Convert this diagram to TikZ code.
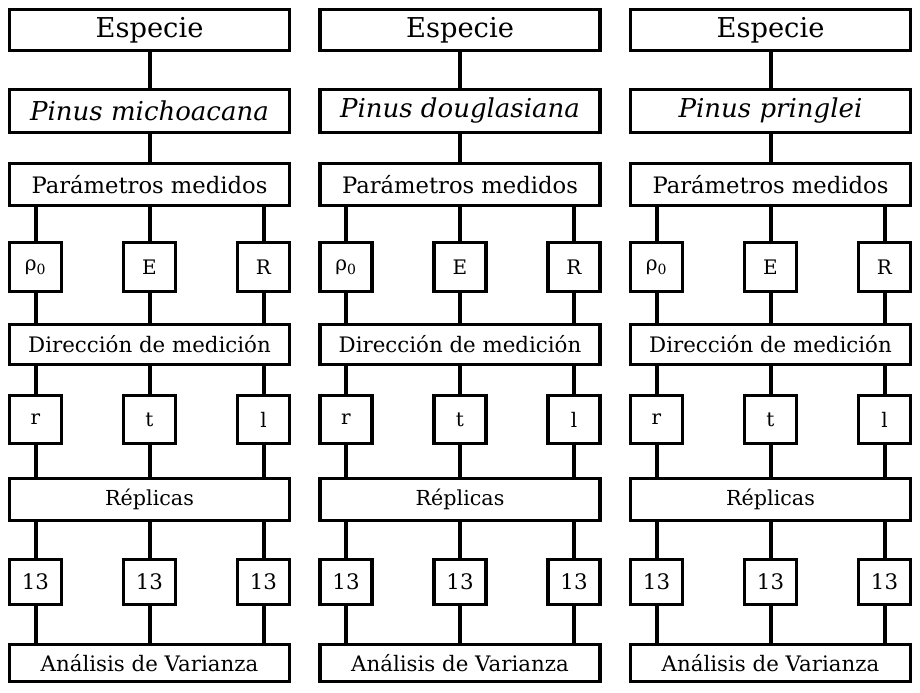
\documentclass[tikz,border=0pt]{standalone}
\usepackage{fontspec}
\setmainfont{DejaVu Serif}

\begin{document}
\begin{tikzpicture}[x=0.75pt, y=-0.75pt,
        ancha/.style={draw, line width=2.3pt, inner sep=0pt, minimum width=210pt},
        chica/.style={draw, line width=2.3pt, inner sep=0pt, minimum width=39pt,
                      font=\fontsize{15}{18}\selectfont},
        linea/.style={line width=3pt}]
    \useasboundingbox (0,0) rectangle (920,692);
    \foreach \c/\especie [count=\i] in {149.5/michoacana, 460/douglasiana, 770.5/pringlei} {
        % columna de cada especie
        \node (esp\i) [ancha, minimum height=30.75pt, font=\fontsize{20.5}{24}\selectfont] at (\c, 30) {Especie};
        \node (pin\i) [ancha, minimum height=32.25pt, font=\fontsize{19.5}{23}\selectfont\itshape] at (\c, 111) {Pinus \especie};
        \node (med\i) [ancha, minimum height=31.5pt, font=\fontsize{17}{20}\selectfont] at (\c, 184.5) {Parámetros medidos};
        \node (dir\i) [ancha, minimum height=30pt, font=\fontsize{16}{19}\selectfont] at (\c, 344.5) {Dirección de medición};
        \node (rep\i) [ancha, minimum height=31.5pt, font=\fontsize{15.5}{18}\selectfont] at (\c, 499.5) {Réplicas};
        \node (ana\i) [ancha, minimum height=27.75pt, font=\fontsize{16}{19}\selectfont] at (\c, 663) {Análisis de Varianza};
        \draw [linea] (esp\i) -- (pin\i);
        \draw [linea] (pin\i) -- (med\i);
        \foreach \d/\p/\q/\k in {-114/ρ\textsubscript{0}/r/a, 0/E/t/b, 114/R/l/c} {
            \node (par\i\k) [chica, minimum height=36.75pt] at ({\c+(\d)}, 267) {\p};
            \node (ori\i\k) [chica, minimum height=36pt] at ({\c+(\d)}, 419.5) {\q};
            \node (num\i\k) [chica, minimum height=33.75pt, font=\fontsize{16}{19}\selectfont] at ({\c+(\d)}, 582) {13};
            \draw [linea] (med\i.south -| par\i\k) -- (par\i\k);
            \draw [linea] (par\i\k) -- (dir\i.north -| par\i\k);
            \draw [linea] (dir\i.south -| ori\i\k) -- (ori\i\k);
            \draw [linea] (ori\i\k) -- (rep\i.north -| ori\i\k);
            \draw [linea] (rep\i.south -| num\i\k) -- (num\i\k);
            \draw [linea] (num\i\k) -- (ana\i.north -| num\i\k);
        }
    }
\end{tikzpicture}
\end{document}
